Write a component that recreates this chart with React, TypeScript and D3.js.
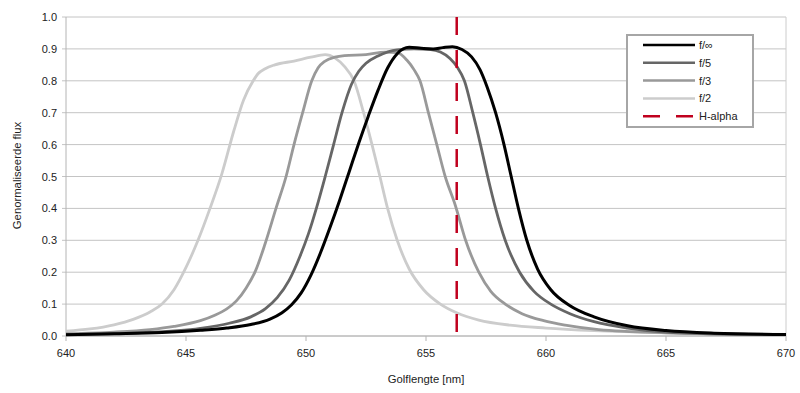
import React from "react";
import * as d3 from "d3";

const xTicks = [640, 645, 650, 655, 660, 665, 670];
const yTicks = [0, 0.1, 0.2, 0.3, 0.4, 0.5, 0.6, 0.7, 0.8, 0.9, 1.0];
const hAlpha = 656.28;

const fInfWl = [640, 642, 644, 645.6, 646.7, 647.7, 648.5, 649.0, 649.4, 649.8, 650.2, 650.6, 651.0, 651.4, 651.8, 652.2, 652.6, 653.0, 653.4, 653.8, 654.3, 654.8, 655.3, 655.7, 656.1, 656.5, 656.9, 657.25, 657.55, 657.9, 658.25, 658.55, 658.85, 659.2, 659.65, 660.2, 661.0, 662.0, 663.4, 665, 667, 670];
const fInfVal = [0.004, 0.007, 0.011, 0.018, 0.025, 0.036, 0.053, 0.073, 0.098, 0.135, 0.19, 0.26, 0.34, 0.425, 0.515, 0.605, 0.69, 0.77, 0.84, 0.885, 0.905, 0.902, 0.9, 0.904, 0.907, 0.898, 0.875, 0.835, 0.78, 0.7, 0.6, 0.5, 0.4, 0.3, 0.21, 0.145, 0.095, 0.06, 0.032, 0.017, 0.009, 0.005];

const f5Wl = [640, 643, 645.6, 646.8, 647.7, 648.3, 648.8, 649.3, 649.75, 650.1, 650.45, 650.8, 651.15, 651.5, 651.9, 652.2, 652.5, 653.0, 653.8, 654.5, 655.2, 655.6, 656.0, 656.3, 656.6, 656.95, 657.27, 657.57, 657.9, 658.3, 658.9, 659.5, 660.2, 661.0, 662.0, 663.4, 665, 667, 670];
const f5Val = [0.005, 0.01, 0.024, 0.04, 0.06, 0.085, 0.12, 0.175, 0.25, 0.32, 0.405, 0.5, 0.6, 0.7, 0.79, 0.83, 0.855, 0.878, 0.897, 0.9, 0.898, 0.89, 0.87, 0.843, 0.8, 0.7, 0.6, 0.5, 0.4, 0.3, 0.2, 0.14, 0.1, 0.07, 0.045, 0.025, 0.012, 0.007, 0.004];

const f3Wl = [640, 642, 643.5, 644.5, 645.6, 646.2, 646.7, 647.1, 647.5, 647.9, 648.3, 648.75, 649.17, 649.5, 649.86, 650.24, 650.5, 650.8, 651.2, 651.6, 652.5, 653.3, 653.8, 654.2, 654.5, 654.75, 655.1, 655.45, 655.8, 656.22, 656.65, 657.2, 657.7, 658.3, 659.0, 659.9, 660.8, 662.2, 665, 670];
const f3Val = [0.007, 0.012, 0.02, 0.03, 0.048, 0.065, 0.085, 0.11, 0.15, 0.205, 0.29, 0.4, 0.5, 0.6, 0.7, 0.8, 0.84, 0.862, 0.874, 0.879, 0.882, 0.89, 0.888, 0.865, 0.835, 0.8, 0.7, 0.6, 0.5, 0.41, 0.3, 0.2, 0.14, 0.1, 0.07, 0.048, 0.034, 0.02, 0.01, 0.004];

const f2Wl = [640, 641, 642, 642.8, 643.5, 644.0, 644.5, 645.0, 645.5, 646.0, 646.5, 647.0, 647.4, 647.8, 648.0, 648.3, 648.7, 649.5, 650.2, 650.8, 651.2, 651.6, 652.0, 652.4, 652.75, 653.08, 653.4, 653.8, 654.3, 654.9, 655.6, 656.3, 657.2, 658.5, 660, 662, 665, 670];
const f2Val = [0.015, 0.022, 0.035, 0.052, 0.075, 0.1, 0.145, 0.215, 0.3, 0.4, 0.51, 0.645, 0.74, 0.8, 0.822, 0.838, 0.85, 0.862, 0.874, 0.882, 0.872, 0.845, 0.8, 0.7, 0.6, 0.5, 0.4, 0.3, 0.21, 0.145, 0.1, 0.072, 0.05, 0.034, 0.025, 0.017, 0.01, 0.005];

const seriesNames = ["f/\u221E", "f/5", "f/3", "f/2"];
const hAlphaLabel = "H-alpha";

const FONT = "'Liberation Sans', Arial, sans-serif";

export default function App() {
  const W = 800, H = 393;
  const left = 66, right = 786, top = 17, bottom = 336;
  const x = d3.scaleLinear().domain([640, 670]).range([left, right]);
  const y = d3.scaleLinear().domain([0, 1]).range([bottom, top]);
  const fmt = d3.format(".1f");

  const series = [
    { name: seriesNames[3], wl: f2Wl, val: f2Val, color: "#cccccc", width: 2.8 },
    { name: seriesNames[2], wl: f3Wl, val: f3Val, color: "#999999", width: 2.8 },
    { name: seriesNames[1], wl: f5Wl, val: f5Val, color: "#666666", width: 2.8 },
    { name: seriesNames[0], wl: fInfWl, val: fInfVal, color: "#000000", width: 3 },
  ];

  const line = d3
    .line<[number, number]>()
    .x((d) => x(d[0]))
    .y((d) => y(d[1]))
    .curve(d3.curveMonotoneX);

  const legendItems = [
    { label: seriesNames[0], color: "#000000", dash: undefined },
    { label: seriesNames[1], color: "#666666", dash: undefined },
    { label: seriesNames[2], color: "#999999", dash: undefined },
    { label: seriesNames[3], color: "#cccccc", dash: undefined },
    { label: hAlphaLabel, color: "#c0001e", dash: "17,16" },
  ];

  return (
    <svg
      width={W}
      height={H}
      style={{ position: "absolute", left: 0, top: 0, background: "#fff" }}
      fontFamily={FONT}
    >
      <rect x={0} y={0} width={W} height={H} fill="#fff" />
      {yTicks.map((t) => (
        <line key={"g" + t} x1={left - 4} x2={right} y1={y(t)} y2={y(t)} stroke="#c4c4c4" strokeWidth={1} />
      ))}
      <line x1={left} x2={left} y1={top} y2={bottom} stroke="#b4b4b4" strokeWidth={1} />
      <line x1={right} x2={right} y1={top} y2={bottom} stroke="#cccccc" strokeWidth={1} />
      <line x1={left} x2={right} y1={bottom} y2={bottom} stroke="#b4b4b4" strokeWidth={1} />
      {xTicks.map((t) => (
        <line key={"xt" + t} x1={x(t)} x2={x(t)} y1={bottom} y2={bottom + 5} stroke="#b4b4b4" strokeWidth={1} />
      ))}
      {yTicks.map((t) => (
        <text key={"yl" + t} x={57} y={y(t) + 4} textAnchor="end" fontSize={11} fill="#222">
          {fmt(t)}
        </text>
      ))}
      {xTicks.map((t) => (
        <text key={"xl" + t} x={x(t)} y={357} textAnchor="middle" fontSize={11} fill="#222">
          {t}
        </text>
      ))}
      <text x={(left + right) / 2} y={383} textAnchor="middle" fontSize={11.3} fill="#222">
        Golflengte [nm]
      </text>
      <text
        transform={`translate(21, ${(top + bottom) / 2 - 1}) rotate(-90)`}
        textAnchor="middle"
        fontSize={11.3}
        fill="#222"
      >
        Genormaliseerde flux
      </text>
      {series.map((s) => (
        <path
          key={s.name}
          d={line(s.wl.map((w, i) => [w, s.val[i]] as [number, number])) || ""}
          fill="none"
          stroke={s.color}
          strokeWidth={s.width}
          strokeLinejoin="round"
        />
      ))}
      <line
        x1={x(hAlpha)}
        x2={x(hAlpha)}
        y1={top}
        y2={bottom}
        stroke="#c0001e"
        strokeWidth={2.5}
        strokeDasharray="18,15"
      />
      <rect x={627} y={35} width={126} height={92} fill="#fff" stroke="#a6a6a6" strokeWidth={2} />
      {legendItems.map((it, i) => {
        const ly = 45 + i * 17.8;
        return (
          <g key={it.label}>
            <line
              x1={643}
              x2={695}
              y1={ly}
              y2={ly}
              stroke={it.color}
              strokeWidth={2.5}
              strokeDasharray={it.dash}
            />
            <text x={699} y={ly + 4} fontSize={11} fill="#222">
              {it.label}
            </text>
          </g>
        );
      })}
    </svg>
  );
}
